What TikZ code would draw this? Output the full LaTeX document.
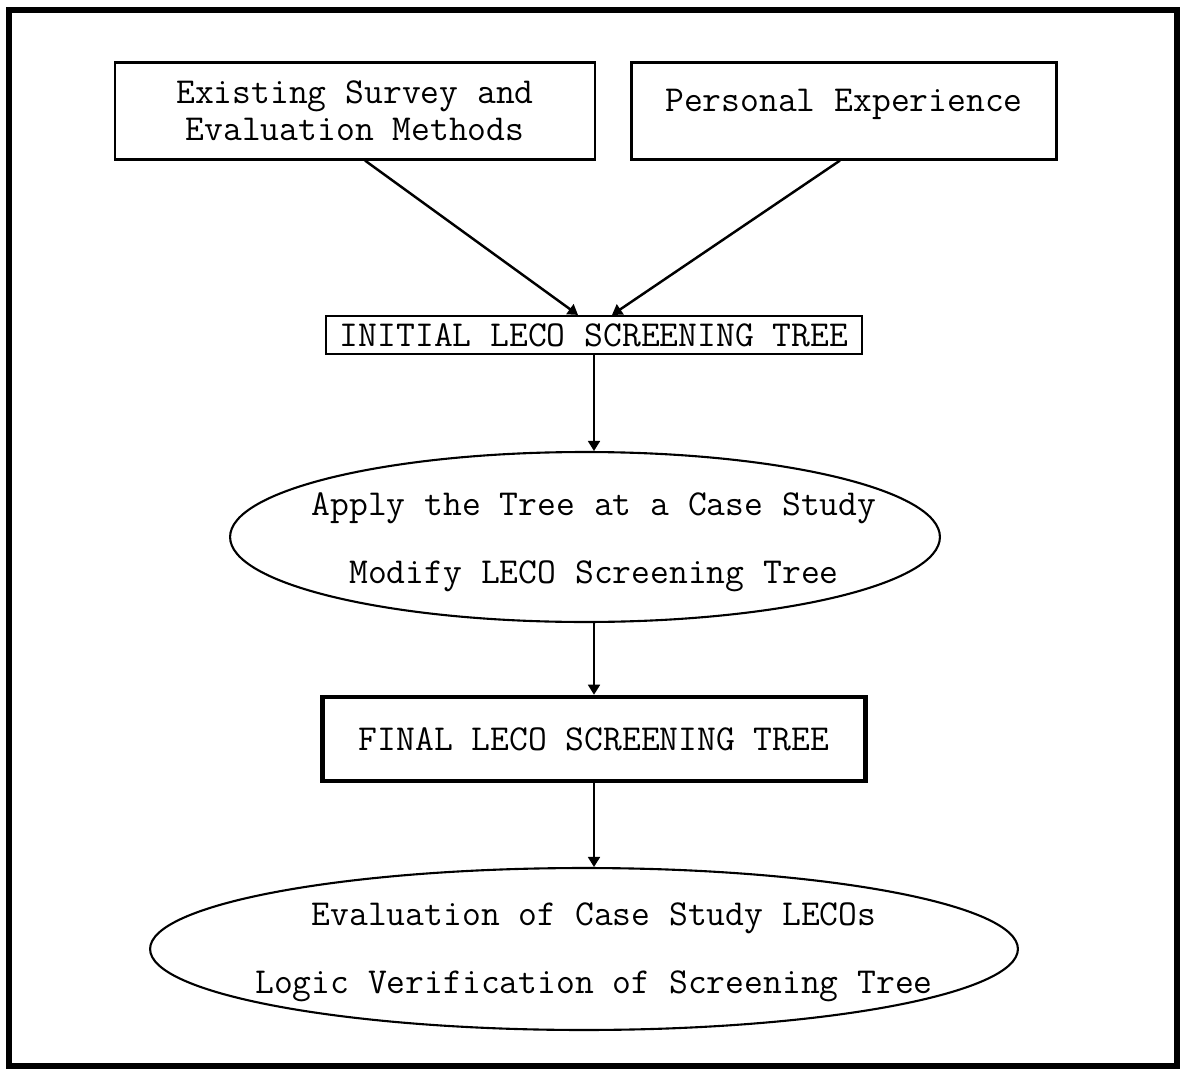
\documentclass[tikz,border=0pt]{standalone}
\usepackage{tikz}
\usetikzlibrary{calc,arrows.meta,shapes.geometric}

\tikzset{
	stagebox/.style={draw, line width=1.2pt, align=center, inner sep=2pt},
	stageoval/.style={draw, ellipse, line width=1.2pt, inner sep=0pt},
	ovaltext/.style={align=center, inner sep=0pt},
	flowarrow/.style={-{Triangle[length=0.2cm,width=0.24cm]}, line width=1pt}
}

\begin{document}
\begin{tikzpicture}[x=0.02cm, y=-0.02cm,
		font=\ttfamily\fontsize{20.8}{18.2}\selectfont]
			\useasboundingbox (0,0) rectangle (1183,1071);
			\draw[line width=3pt] (9,10) rectangle (1177,1066);

			% sources
			\node[stagebox, minimum width=9.6cm, minimum height=1.94cm] (survey) at (355,111)
			{Existing Survey and\\[3pt]Evaluation Methods};
			\node[stagebox, minimum width=8.5cm, minimum height=1.94cm] (experience) at (844,111)
			{Personal Experience\\[-6pt]\phantom{P}};

			% tree stages
			\node[stagebox, minimum width=10.72cm, minimum height=0.76cm, inner sep=1pt] (initial) at (594,335)
			{INITIAL LECO SCREENING TREE};
			\node[stageoval, minimum width=14.2cm, minimum height=3.4cm,
				label={[ovaltext, xshift=0.18cm, yshift=-0.1cm]center:Apply the Tree at a Case Study\\[20.5pt]Modify LECO Screening Tree}]
				(apply) at (585,537) {};
			\node[stagebox, line width=2.6pt, minimum width=10.86cm, minimum height=1.68cm] (final) at (594,739)
			{FINAL LECO SCREENING TREE};
			\node[stageoval, minimum width=17.36cm, minimum height=3.24cm,
				label={[ovaltext, xshift=0.2cm, yshift=-0.06cm]center:Evaluation of Case Study LECOs\\[20.5pt]Logic Verification of Screening Tree}]
				(verify) at (584,949) {};

			\draw[flowarrow, line width=1.4pt] ([xshift=0.2cm]survey.south) -- ([xshift=-0.32cm]initial.north);
			\draw[flowarrow, line width=1.4pt] ([xshift=-0.08cm]experience.south) -- ([xshift=0.36cm]initial.north);
			\draw[flowarrow] (initial.south) -- (initial.south |- apply.north);
			\draw[flowarrow] (final.north |- apply.south) -- (final.north);
			\draw[flowarrow] (final.south) -- (final.south |- verify.north);
		\end{tikzpicture}
\end{document}
